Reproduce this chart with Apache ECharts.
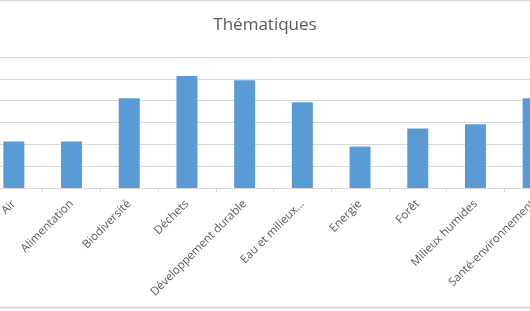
<!DOCTYPE html>
<html>
<head>
<meta charset="utf-8">
<script src="https://cdn.jsdelivr.net/npm/echarts@6/dist/echarts.min.js"></script>
<style>
html,body{margin:0;padding:0;background:#fff;overflow:hidden;width:530px;height:311px;position:relative;}
#c{position:absolute;left:-15px;top:0;width:577px;height:311px;}
</style>
</head>
<body>
<div id="c"></div>
<script>
var categories = ["Air","Alimentation","Biodiversité","Déchets","Développement durable","Eau et milieux...","Energie","Forêt","Milieux humides","Santé-environnement"];
var values = [2.13, 2.13, 4.11, 5.13, 4.93, 3.93, 1.9, 2.72, 2.92, 4.11];
var yTicks = [0, 1, 2, 3, 4, 5, 6];

var chart = echarts.init(document.getElementById('c'), null, {renderer:'canvas'});
chart.setOption({
  animation: false,
  backgroundColor: '#fff',
  graphic: [
    {type:'text', x: 280, y: 25, style:{text:'Thématiques', align:'center', verticalAlign:'middle', fontFamily:'Open Sans', fontSize:17, fill:'#595959'}},
    {type:'line', shape:{x1:0,y1:0.5,x2:577,y2:0.5}, style:{stroke:'#d9d9d9', lineWidth:1.5}},
    {type:'line', shape:{x1:0,y1:307.5,x2:577,y2:307.5}, style:{stroke:'#d9d9d9', lineWidth:2}}
  ],
  grid: {left: 0, right: 0, top: 57, bottom: 123, containLabel: false},
  xAxis: {
    type: 'category',
    data: categories,
    axisLine: {lineStyle: {color: '#d9d9d9', width: 1}},
    axisTick: {show: true, length: 4, lineStyle: {color: '#d9d9d9'}},
    axisLabel: {rotate: 45, interval: 0, margin: 14, color: '#595959', fontFamily: 'Open Sans', fontSize: 11.5}
  },
  yAxis: {
    type: 'value',
    min: yTicks[0],
    max: yTicks[yTicks.length-1],
    interval: 1,
    axisLabel: {show: false},
    axisLine: {show: false},
    axisTick: {show: false},
    splitLine: {lineStyle: {color: '#d9d9d9', width: 1}}
  },
  series: [{
    type: 'bar',
    data: values,
    barWidth: 21,
    itemStyle: {color: '#5B9BD5'}
  }]
});
</script>
</body>
</html>
